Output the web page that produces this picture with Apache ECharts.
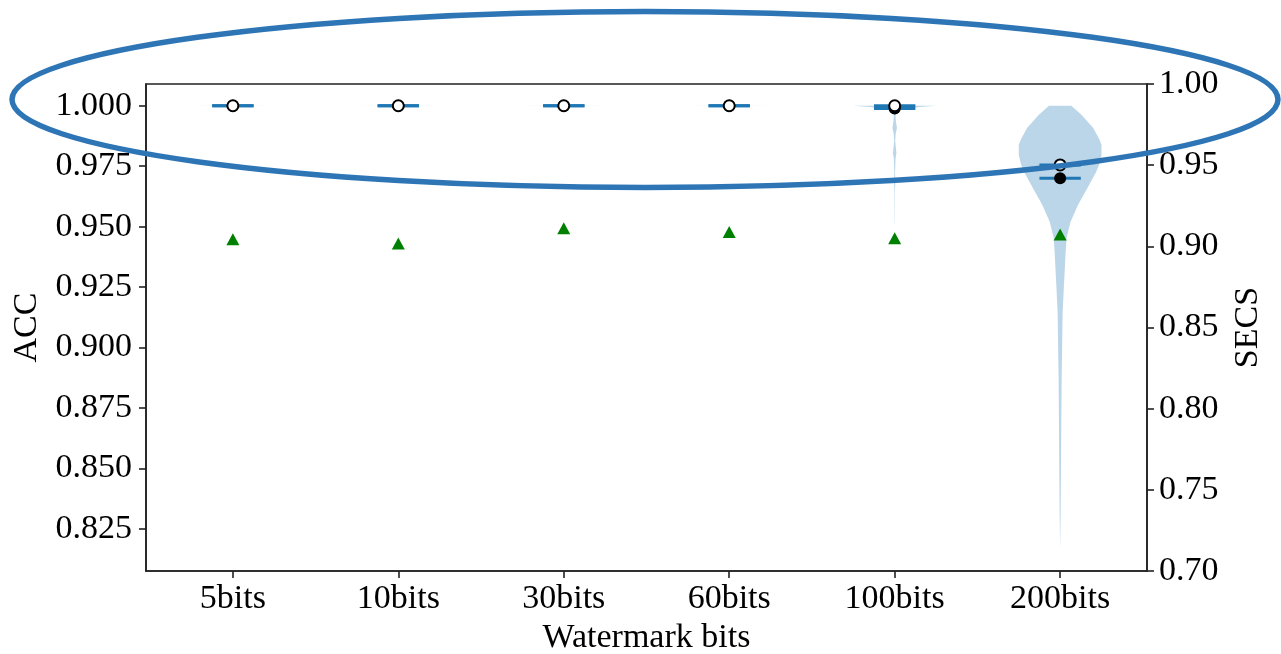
<!DOCTYPE html>
<html>
<head>
<meta charset="utf-8">
<title>ACC / SECS by watermark bits</title>
<script src="https://cdn.jsdelivr.net/npm/echarts@6/dist/echarts.min.js"></script>
<style>
  html, body { margin: 0; padding: 0; background: #fff; }
  #chart { width: 1281px; height: 654px; }
</style>
</head>
<body>
<div id="chart"></div>
<script>
// Watermark lengths on the x axis
const categories = ['5bits', '10bits', '30bits', '60bits', '100bits', '200bits'];

// ACC summary per watermark length (left axis)
const accMedian = [1.0, 1.0, 1.0, 1.0, 1.0, 0.9755];
const accMean = [1.0, 1.0, 1.0, 1.0, 0.9989, 0.9700];

// SECS mean per watermark length (right axis)
const secsMean = [0.9044, 0.9017, 0.9112, 0.9088, 0.9050, 0.9073];

// Tick labels
const accTicks = [0.825, 0.850, 0.875, 0.900, 0.925, 0.950, 0.975, 1.000];
const secsTicks = [0.70, 0.75, 0.80, 0.85, 0.90, 0.95, 1.00];

// ACC density outlines: [ACC value, half width relative to the widest point]
const violin5bits = [[1.0, 1.0], [0.99985, 0.0]];
const violin10bits = [[1.0, 1.0], [0.99985, 0.0]];
const violin30bits = [[1.0, 1.0], [0.99985, 0.0]];
const violin60bits = [[1.0, 1.0], [0.99985, 0.0]];
const violin100bits = [
  [1.0, 1.0], [0.9995, 0.6], [0.9990, 0.35], [0.9985, 0.2], [0.9978, 0.09],
  [0.9970, 0.04], [0.9960, 0.02], [0.9935, 0.03], [0.9908, 0.055], [0.9885, 0.025],
  [0.9855, 0.012], [0.9825, 0.03], [0.9805, 0.042], [0.9780, 0.02], [0.9720, 0.008],
  [0.9685, 0.016], [0.9650, 0.006], [0.9520, 0.003], [0.9505, 0.0]
];
const violin200bits = [
  [1.0, 0.27], [0.9962, 0.52], [0.9908, 0.80], [0.9860, 0.95], [0.9838, 1.0],
  [0.9796, 1.0], [0.9760, 0.95], [0.9726, 0.87], [0.9660, 0.66], [0.9589, 0.43],
  [0.9519, 0.25], [0.9453, 0.155], [0.9383, 0.13], [0.9250, 0.09], [0.9143, 0.06],
  [0.8865, 0.036], [0.8588, 0.024], [0.8315, 0.012], [0.8170, 0.0]
];
const violinProfiles = [violin5bits, violin10bits, violin30bits, violin60bits, violin100bits, violin200bits];

const FONT = 'Liberation Serif';
const BLUE = '#1f77b4';
const VIOLIN_HALF = 0.25;   // half of the violin width, in category units
const LINE_HALF = 0.125;    // half length of the median / mean bars

const chart = echarts.init(document.getElementById('chart'), null, { renderer: 'canvas' });

const positions = categories.map((c, i) => i + 1);
const axisText = { color: '#000', fontFamily: FONT, fontSize: 34 };
const axisLineStyle = { color: '#222', width: 1.6 };

function violinItem(params, api) {
  const pos = api.value(0);
  const prof = violinProfiles[params.dataIndex];
  const pts = [];
  for (let k = 0; k < prof.length; k++) {
    pts.push(api.coord([pos + prof[k][1] * VIOLIN_HALF, prof[k][0]]));
  }
  for (let k = prof.length - 1; k >= 0; k--) {
    pts.push(api.coord([pos - prof[k][1] * VIOLIN_HALF, prof[k][0]]));
  }
  return { type: 'polygon', shape: { points: pts }, style: { fill: 'rgba(31,119,180,0.3)' } };
}

function barItem(params, api) {
  const x = api.value(0), y = api.value(1);
  const a = api.coord([x - LINE_HALF, y]);
  const b = api.coord([x + LINE_HALF, y]);
  return {
    type: 'line',
    shape: { x1: a[0], y1: a[1], x2: b[0], y2: b[1] },
    style: { stroke: BLUE, lineWidth: 3 }
  };
}

chart.setOption({
  animation: false,
  backgroundColor: '#fff',
  grid: {
    left: 146, right: 134, top: 84, bottom: 83,
    outerBoundsMode: 'none',
    containLabel: false,
    show: true, borderColor: '#222', borderWidth: 1.6, backgroundColor: 'transparent'
  },
  xAxis: {
    type: 'value',
    min: 0.475, max: 6.525,
    name: 'Watermark bits',
    nameLocation: 'middle',
    nameGap: 48,
    nameTextStyle: axisText,
    axisLine: { show: true, lineStyle: axisLineStyle },
    axisTick: { show: true, length: 7, lineStyle: axisLineStyle, customValues: positions },
    axisLabel: Object.assign({
      margin: 11,
      customValues: positions,
      formatter: v => categories[Math.round(v) - 1] || ''
    }, axisText),
    splitLine: { show: false }
  },
  yAxis: [
    {
      type: 'value',
      min: 0.8075, max: 1.009,
      name: 'ACC',
      nameLocation: 'middle',
      nameRotate: 90,
      nameGap: 102,
      nameTextStyle: axisText,
      axisLine: { show: true, lineStyle: axisLineStyle },
      axisTick: { show: true, length: 7, lineStyle: axisLineStyle, customValues: accTicks },
      axisLabel: Object.assign({
        margin: 14,
        customValues: accTicks,
        formatter: v => v.toFixed(3)
      }, axisText),
      splitLine: { show: false }
    },
    {
      type: 'value',
      position: 'right',
      min: 0.70, max: 1.00,
      name: 'SECS',
      nameLocation: 'middle',
      nameRotate: 90,
      nameGap: 84,
      nameTextStyle: axisText,
      axisLine: { show: true, lineStyle: axisLineStyle },
      axisTick: { show: true, length: 7, lineStyle: axisLineStyle, customValues: secsTicks },
      axisLabel: Object.assign({
        margin: 12,
        customValues: secsTicks,
        formatter: v => v.toFixed(2)
      }, axisText),
      splitLine: { show: false }
    }
  ],
  series: [
    {
      name: 'ACC density',
      type: 'custom',
      z: 1,
      renderItem: violinItem,
      encode: { x: 0 },
      data: positions.map(p => [p]),
      silent: true
    },
    {
      name: 'ACC median bar',
      type: 'custom',
      z: 2,
      renderItem: barItem,
      encode: { x: 0, y: 1 },
      data: positions.map((p, i) => [p, accMedian[i]])
    },
    {
      name: 'ACC mean bar',
      type: 'custom',
      z: 2,
      renderItem: barItem,
      encode: { x: 0, y: 1 },
      data: positions.map((p, i) => [p, accMean[i]])
    },
    {
      name: 'ACC mean',
      type: 'scatter',
      z: 3,
      symbol: 'circle',
      symbolSize: 12,
      itemStyle: { color: '#000', opacity: 1 },
      data: positions.map((p, i) => [p, accMean[i]])
    },
    {
      name: 'ACC median',
      type: 'scatter',
      z: 4,
      symbol: 'circle',
      symbolSize: 11,
      itemStyle: { color: '#fff', borderColor: '#000', borderWidth: 2, opacity: 1 },
      data: positions.map((p, i) => [p, accMedian[i]])
    },
    {
      name: 'SECS mean',
      type: 'scatter',
      yAxisIndex: 1,
      z: 5,
      symbol: 'triangle',
      symbolSize: [13, 12],
      itemStyle: { color: '#008000', opacity: 1 },
      data: positions.map((p, i) => [p, secsMean[i]])
    }
  ],
  graphic: [
    {
      type: 'ellipse',
      z: 100,
      silent: true,
      shape: { cx: 645, cy: 99.5, rx: 633, ry: 88 },
      style: { fill: null, stroke: '#2e75b6', lineWidth: 5.5 }
    }
  ]
});
</script>
</body>
</html>
